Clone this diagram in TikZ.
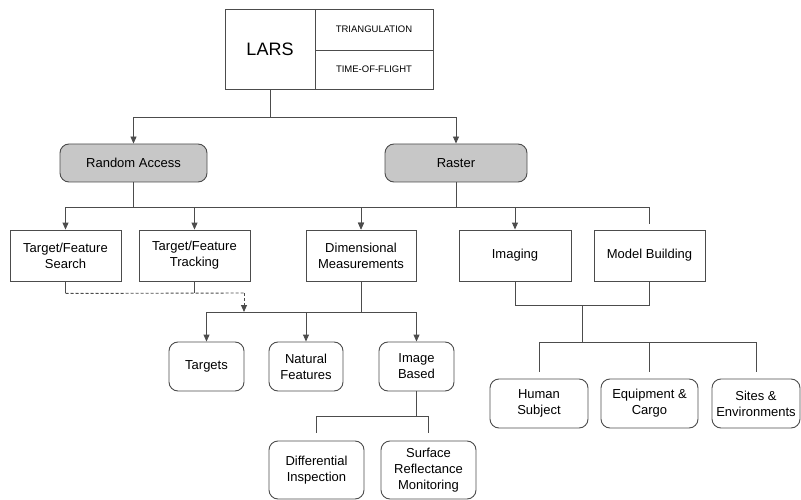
\documentclass[tikz,border=0pt]{standalone}
\usepackage{fontspec}
\setmainfont{Liberation Sans}
\usetikzlibrary{arrows.meta}

\begin{document}
\begin{tikzpicture}[x=1pt,y=-1pt,
  line width=0.9pt,
  >={Triangle[width=6pt,length=7pt]},
  box/.style={draw=black!70,rectangle,align=center,inner sep=1pt,
    font=\fontsize{13}{16}\selectfont},
  sqbox/.style={box,minimum width=111pt,minimum height=51pt},
  greybox/.style={box,fill=black!22,rounded corners=9pt,minimum height=38pt},
  leaf/.style={box,rounded corners=9pt,minimum height=49pt},
  link/.style={draw=black!70}]
\useasboundingbox (0,0) rectangle (801,500);

% LARS header
\node[box,minimum width=90pt,minimum height=80pt,font=\fontsize{18}{20}\selectfont] (lars) at (270,49) {LARS};
\node[box,minimum width=118pt,minimum height=41pt,font=\fontsize{9.5}{11}\selectfont] (tri) at (374,29.5) {TRIANGULATION};
\node[box,minimum width=118pt,minimum height=39pt,font=\fontsize{9.5}{11}\selectfont] (tof) at (374,69.5) {TIME-OF-FLIGHT};

% scan modes
\node[greybox,minimum width=147pt] (ra) at (133.5,163) {Random Access};
\node[greybox,minimum width=142pt] (raster) at (456,163) {Raster};

% tasks
\node[sqbox] (search) at (65.5,255.5) {Target/Feature\\Search};
\node[sqbox] (track) at (194.5,255.5) {Target/Feature\\Tracking};
\node[sqbox,minimum width=110pt] (dim) at (361,255.5) {Dimensional\\Measurements};
\node[sqbox,minimum width=112pt] (imaging) at (515,255.5) {Imaging};
\node[sqbox] (model) at (649.5,255.5) {Model Building};

% measurement kinds
\node[leaf,minimum width=75pt] (targets) at (206.5,366.5) {Targets};
\node[leaf,minimum width=74pt] (natural) at (306,366.5) {Natural\\Features};
\node[leaf,minimum width=75pt] (imgb) at (416.5,366.5) {Image\\Based};
\node[leaf,minimum width=95pt,minimum height=58pt] (diff) at (316.5,470) {Differential\\Inspection};
\node[leaf,minimum width=95pt,minimum height=58pt] (surf) at (428.5,470) {Surface\\Reflectance\\Monitoring};

% subjects
\node[leaf,minimum width=98pt] (human) at (539,403.5) {Human\\Subject};
\node[leaf,minimum width=97pt] (equip) at (649.5,403.5) {Equipment \&\\Cargo};
\node[leaf,minimum width=88pt] (sites) at (756,403.5) {Sites \&\\Environments};

% LARS -> modes
\draw[link] (lars.south) -- ++(0,28) coordinate (top);
\draw[link,->] (top) -| (ra.north);
\draw[link,->] (top) -| (raster.north);

% random access
\draw[link] (ra.south) -- ++(0,25) coordinate (rasplit);
\draw[link,->] (rasplit) -| (search.north);
\draw[link,->] (rasplit) -| (track.north);
\draw[link,->] (rasplit) -| (dim.north);

% raster
\draw[link] (raster.south) -- ++(0,25) coordinate (rsplit);
\draw[link,->] (rsplit) -| (dim.north);
\draw[link,->] (rsplit) -| (imaging.north);
\draw[link] (rsplit) -| ([yshift=6pt]model.north);

% search / tracking feed into measurements
\draw[link] (search.south) -- ++(0,12) coordinate (s1);
\draw[link] (track.south) -- ++(0,12);
\coordinate (s2) at (244,293);
\draw[link,densely dashed] (s1) -- (s2);
\draw[link,densely dashed,->] (s2) -- (244,312);

% dimensional measurements
\draw[link] (dim.south) -- ++(0,31) coordinate (dsplit);
\draw[link,->] (dsplit) -| (targets.north);
\draw[link,->] (dsplit) -| (natural.north);
\draw[link,->] (dsplit) -| (imgb.north);

% image based
\draw[link] (imgb.south) -- ++(0,25) coordinate (isplit);
\draw[link] (isplit) -| ([yshift=8pt]diff.north);
\draw[link] (isplit) -| ([yshift=8pt]surf.north);

% imaging + model building
\draw[link] (imaging.south) -- ++(0,24) -| (model.south);
\coordinate (bjoin) at (582.5,305);
\draw[link] (bjoin) -- ++(0,37) coordinate (bsplit);
\draw[link] (bsplit) -| ([yshift=7pt]human.north);
\draw[link] (bsplit) -| ([yshift=7pt]equip.north);
\draw[link] (bsplit) -| ([yshift=7pt]sites.north);
\end{tikzpicture}
\end{document}
